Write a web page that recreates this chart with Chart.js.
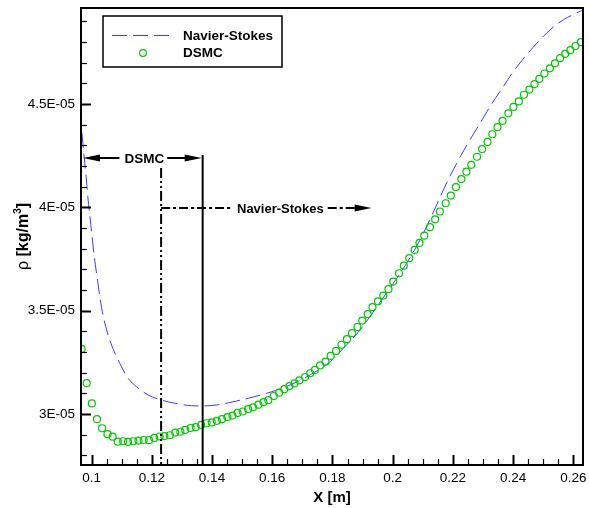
<!DOCTYPE html>
<html>
<head>
<meta charset="utf-8">
<script src="https://cdn.jsdelivr.net/npm/chart.js@4/dist/chart.umd.min.js"></script>
<style>
html,body{margin:0;padding:0;background:#fff;}
#wrap{width:589px;height:508px;position:relative;}
canvas{display:block;}
</style>
</head>
<body>
<div id="wrap"><canvas id="c" width="589" height="508"></canvas></div>
<script>
// ---------------- data (rho values in units of 1e-5 kg/m^3) ----------------
const RHO_UNIT = 1e-5;
const seriesNames = ['Navier-Stokes', 'DSMC'];

const nsX = [0.0968,0.0975,0.0982,0.0988,0.0995,0.1002,0.1008,0.1015,0.1022,0.1028,
             0.1038,0.1052,0.1065,0.1088,0.1121,0.1149,0.1188,0.1230,0.1276,0.1332,
             0.1376,0.1427,0.1482,0.1537,0.1599,0.1659,0.1726,0.1792,0.1836,0.1892,
             0.1947,0.1991,0.2025,0.2063,0.2091,0.2131,0.2184,0.2241,0.2297,0.2329,
             0.2367,0.2401,0.2440,0.2479,0.2523,0.2567,0.2628,0.2632];
const nsRho = [4.361,4.254,4.148,4.046,3.949,3.857,3.775,3.697,3.625,3.562,
               3.479,3.397,3.339,3.262,3.174,3.132,3.092,3.068,3.052,3.040,
               3.039,3.046,3.063,3.082,3.108,3.140,3.189,3.253,3.318,3.407,
               3.518,3.610,3.681,3.770,3.843,3.964,4.133,4.288,4.424,4.501,
               4.584,4.658,4.730,4.795,4.860,4.908,4.953,4.956];

const dsmcX = [0.0967,0.0984,0.1001,0.1018,0.1035,0.1053,0.1070,0.1087,0.1105,0.1121,
               0.1139,0.1156,0.1173,0.1191,0.1208,0.1226,0.1242,0.1260,0.1278,0.1295,
               0.1311,0.1329,0.1346,0.1364,0.1382,0.1399,0.1416,0.1433,0.1451,0.1468,
               0.1485,0.1502,0.1520,0.1536,0.1554,0.1571,0.1587,0.1605,0.1623,0.1640,
               0.1657,0.1674,0.1690,0.1709,0.1726,0.1742,0.1759,0.1777,0.1794,0.1812,
               0.1830,0.1848,0.1865,0.1883,0.1899,0.1917,0.1933,0.1951,0.1969,0.1986,
               0.2002,0.2021,0.2037,0.2055,0.2073,0.2089,0.2105,0.2124,0.2141,0.2157,
               0.2176,0.2193,0.2210,0.2228,0.2245,0.2261,0.2280,0.2297,0.2315,0.2331,
               0.2348,0.2365,0.2384,0.2401,0.2419,0.2436,0.2454,0.2471,0.2487,0.2504,
               0.2522,0.2539,0.2556,0.2573,0.2590,0.2607,0.2625];
const dsmcRho = [3.315,3.149,3.051,2.975,2.931,2.902,2.890,2.866,2.868,2.865,
                 2.868,2.871,2.874,2.873,2.884,2.891,2.893,2.897,2.910,2.914,
                 2.923,2.932,2.936,2.947,2.955,2.959,2.967,2.975,2.985,2.992,
                 3.005,3.012,3.023,3.032,3.045,3.057,3.067,3.087,3.103,3.120,
                 3.135,3.148,3.163,3.179,3.197,3.213,3.235,3.253,3.281,3.305,
                 3.335,3.362,3.391,3.421,3.452,3.483,3.517,3.545,3.573,3.604,
                 3.641,3.681,3.718,3.754,3.794,3.828,3.863,3.904,3.942,3.980,
                 4.020,4.057,4.098,4.137,4.173,4.206,4.245,4.282,4.317,4.354,
                 4.388,4.419,4.455,4.486,4.513,4.545,4.570,4.597,4.622,4.648,
                 4.673,4.697,4.722,4.743,4.761,4.781,4.800];

const xTickValues = [0.1,0.12,0.14,0.16,0.18,0.2,0.22,0.24,0.26];
const xTickLabels = ['0.1','0.12','0.14','0.16','0.18','0.2','0.22','0.24','0.26'];
const yTickValues = [3e-5,3.5e-5,4e-5,4.5e-5];
const yTickLabels = ['3E-05','3.5E-05','4E-05','4.5E-05'];

// region annotations (data coordinates)
const dsmcLimitX = 0.1369;      // solid line: end of DSMC region
const nsLimitX = 0.1231;        // dash-dot-dot line: start of N-S region
const dsmcLimitTop = 4.254;     // top of solid line (1e-5)
const nsLimitTop = 4.191;       // top of dash-dot line (1e-5)
const dsmcArrowRho = 4.240;     // DSMC arrow level (1e-5)
const nsArrowRho = 3.996;       // N-S arrow level (1e-5)
const nsLabelX = 0.1483;        // N-S label start
const nsArrowEndX = 0.1930;     // N-S arrow tip
const regionLabels = ['DSMC', 'Navier-Stokes'];

// axis ranges
const X_MIN = 0.0965, X_MAX = 0.2632;
const Y_MIN = 2.753e-5, Y_MAX = 4.965e-5;

// ---------------- styles ----------------
const FONT = "'Liberation Sans', Arial, Helvetica, sans-serif";
const NS_COLOR = 'rgb(60,60,255)';
const DSMC_COLOR = 'rgb(0,200,0)';
const NS_DASH = [15, 6];

const frameAndTicks = {
  id: 'frameAndTicks',
  afterDraw(chart) {
    const {ctx, chartArea: ca, scales: {x, y}} = chart;
    ctx.save();
    ctx.strokeStyle = '#000';
    // x ticks (inward)
    for (let k = Math.ceil(X_MIN / 0.005 - 1e-9); k * 0.005 <= X_MAX + 1e-9; k++) {
      const v = k * 0.005;
      const major = Math.abs(v / 0.02 - Math.round(v / 0.02)) < 1e-6;
      const px = Math.round(x.getPixelForValue(v)) + 0.5;
      ctx.lineWidth = major ? 2 : 1.2;
      ctx.beginPath();
      ctx.moveTo(px, ca.bottom);
      ctx.lineTo(px, ca.bottom - (major ? 10 : 6));
      ctx.stroke();
    }
    // y ticks (inward)
    for (let k = Math.ceil(Y_MIN / 1e-6 - 1e-9); k * 1e-6 <= Y_MAX + 1e-12; k++) {
      const v = k * 1e-6;
      const major = k % 5 === 0;
      const py = Math.round(y.getPixelForValue(v)) + 0.5;
      ctx.lineWidth = major ? 2 : 1.2;
      ctx.beginPath();
      ctx.moveTo(ca.left, py);
      ctx.lineTo(ca.left + (major ? 10 : 6), py);
      ctx.stroke();
    }
    // frame
    ctx.lineWidth = 2;
    ctx.strokeRect(ca.left, ca.top, ca.right - ca.left, ca.bottom - ca.top);

    // region annotations
    ctx.fillStyle = '#000';
    ctx.strokeStyle = '#000';
    const xs = x.getPixelForValue(dsmcLimitX);
    const xd = x.getPixelForValue(nsLimitX);
    // solid vertical line
    ctx.lineWidth = 2;
    ctx.setLineDash([]);
    ctx.beginPath();
    ctx.moveTo(xs, y.getPixelForValue(dsmcLimitTop * RHO_UNIT));
    ctx.lineTo(xs, ca.bottom);
    ctx.stroke();
    // dash-dot-dot vertical line
    ctx.setLineDash([10, 3, 2, 3, 2, 3]);
    ctx.beginPath();
    ctx.moveTo(xd, y.getPixelForValue(nsLimitTop * RHO_UNIT));
    ctx.lineTo(xd, ca.bottom);
    ctx.stroke();
    ctx.setLineDash([]);

    const head = (tipX, yy, dir) => {
      ctx.beginPath();
      ctx.moveTo(tipX, yy);
      ctx.lineTo(tipX - dir * 17, yy - 3.5);
      ctx.lineTo(tipX - dir * 17, yy + 3.5);
      ctx.closePath();
      ctx.fill();
    };
    ctx.font = `bold 13.5px ${FONT}`;
    ctx.textBaseline = 'middle';
    // DSMC arrow
    const ya = Math.round(y.getPixelForValue(dsmcArrowRho * RHO_UNIT));
    const l = ca.left + 2, r = xs - 1;
    const tw = ctx.measureText(regionLabels[0]).width;
    const tc = (l + r) / 2 + 2;
    ctx.textAlign = 'center';
    ctx.fillText(regionLabels[0], tc, ya + 1);
    ctx.lineWidth = 2;
    ctx.beginPath();
    ctx.moveTo(l + 10, ya); ctx.lineTo(tc - tw / 2 - 5, ya);
    ctx.moveTo(tc + tw / 2 + 3, ya); ctx.lineTo(r - 10, ya);
    ctx.stroke();
    head(l, ya, -1);
    head(r, ya, 1);
    // Navier-Stokes arrow
    const yb = Math.round(y.getPixelForValue(nsArrowRho * RHO_UNIT));
    const lx = x.getPixelForValue(nsLabelX);
    const ex = x.getPixelForValue(nsArrowEndX);
    ctx.textAlign = 'left';
    ctx.font = `bold 13px ${FONT}`;
    const tw2 = ctx.measureText(regionLabels[1]).width;
    ctx.fillText(regionLabels[1], lx, yb + 1);
    ctx.setLineDash([9, 3, 3, 3]);
    ctx.beginPath();
    ctx.moveTo(xd, yb); ctx.lineTo(lx - 4, yb);
    ctx.moveTo(lx + tw2 + 4, yb); ctx.lineTo(ex - 12, yb);
    ctx.stroke();
    ctx.setLineDash([]);
    head(ex, yb, 1);

    // legend
    const lgL = ca.left + 22, lgT = ca.top + 8;
    ctx.lineWidth = 1.5;
    ctx.strokeStyle = '#000';
    ctx.strokeRect(lgL, lgT, 179, 51);
    ctx.strokeStyle = NS_COLOR;
    ctx.lineWidth = 1;
    ctx.setLineDash(NS_DASH);
    ctx.beginPath();
    ctx.moveTo(lgL + 9, lgT + 19.5);
    ctx.lineTo(lgL + 69, lgT + 19.5);
    ctx.stroke();
    ctx.setLineDash([]);
    ctx.strokeStyle = DSMC_COLOR;
    ctx.lineWidth = 1.2;
    ctx.beginPath();
    ctx.arc(lgL + 40, lgT + 37, 3.4, 0, Math.PI * 2);
    ctx.stroke();
    ctx.fillStyle = '#000';
    ctx.font = `bold 13.5px ${FONT}`;
    ctx.textAlign = 'left';
    ctx.fillText(seriesNames[0], lgL + 80, lgT + 20);
    ctx.fillText(seriesNames[1], lgL + 80, lgT + 37);

    // axis titles
    ctx.font = `bold 15px ${FONT}`;
    ctx.textAlign = 'center';
    ctx.fillText('X [m]', (ca.left + ca.right) / 2, 498);

    ctx.save();
    ctx.translate(28, (ca.top + ca.bottom) / 2);
    ctx.rotate(-Math.PI / 2);
    ctx.textAlign = 'left';
    ctx.textBaseline = 'alphabetic';
    const parts = [
      ['ρ ', `16px ${FONT}`, 0],
      ['[kg/m', `bold 16px ${FONT}`, 0],
      ['3', `bold 10px ${FONT}`, -7],
      [']', `bold 16px ${FONT}`, 0]
    ];
    let total = 0;
    parts.forEach(p => { ctx.font = p[1]; total += ctx.measureText(p[0]).width; });
    let cx = -total / 2;
    parts.forEach(p => { ctx.font = p[1]; ctx.fillText(p[0], cx, p[2]); cx += ctx.measureText(p[0]).width; });
    ctx.restore();

    ctx.restore();
  }
};

new Chart(document.getElementById('c'), {
  type: 'scatter',
  data: {
    datasets: [
      {
        label: seriesNames[0],
        data: nsX.map((v, i) => ({x: v, y: nsRho[i] * RHO_UNIT})),
        showLine: true,
        borderColor: NS_COLOR,
        borderWidth: 1,
        borderDash: NS_DASH,
        pointRadius: 0,
        cubicInterpolationMode: 'monotone',
        fill: false,
        order: 1
      },
      {
        label: seriesNames[1],
        data: dsmcX.map((v, i) => ({x: v, y: dsmcRho[i] * RHO_UNIT})),
        showLine: false,
        pointRadius: 3.5,
        pointBorderWidth: 1.2,
        pointBorderColor: DSMC_COLOR,
        pointBackgroundColor: 'rgba(0,0,0,0)',
        borderColor: DSMC_COLOR,
        order: 0
      }
    ]
  },
  options: {
    responsive: false,
    animation: false,
    events: [],
    devicePixelRatio: 1,
    layout: {padding: {left: 0, top: 8, right: 6, bottom: 0}},
    plugins: {legend: {display: false}, tooltip: {enabled: false}, title: {display: false}},
    scales: {
      x: {
        type: 'linear', min: X_MIN, max: X_MAX,
        afterBuildTicks: s => { s.ticks = xTickValues.map(v => ({value: v})); },
        afterFit: s => { s.height = 43; s.paddingLeft = 0; s.paddingRight = 0; s.paddingTop = 0; s.paddingBottom = 0; },
        ticks: {
          callback: (v, i) => xTickLabels[i],
          autoSkip: false, maxRotation: 0, padding: 5,
          color: '#000', font: {family: FONT, size: 13.5}
        },
        grid: {display: false, drawTicks: false},
        border: {display: false}
      },
      y: {
        type: 'linear', min: Y_MIN, max: Y_MAX,
        afterBuildTicks: s => { s.ticks = yTickValues.map(v => ({value: v})); },
        afterFit: s => { s.width = 81; s.paddingLeft = 0; s.paddingRight = 0; s.paddingTop = 0; s.paddingBottom = 0; },
        ticks: {
          callback: (v, i) => yTickLabels[i],
          autoSkip: false, padding: 6,
          color: '#000', font: {family: FONT, size: 13.5}
        },
        grid: {display: false, drawTicks: false},
        border: {display: false}
      }
    }
  },
  plugins: [frameAndTicks]
});
</script>
</body>
</html>
